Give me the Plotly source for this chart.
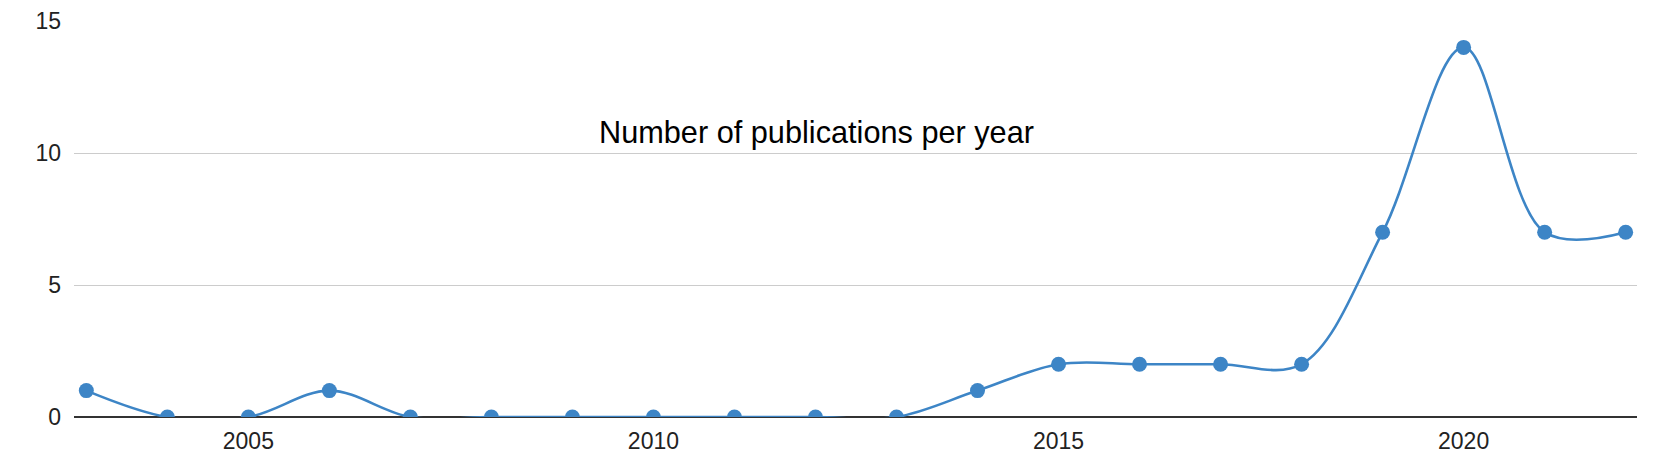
import plotly.graph_objects as go

years = list(range(2003, 2023))
publications = [1, 0, 0, 1, 0, 0, 0, 0, 0, 0, 0, 1, 2, 2, 2, 2, 7, 14, 7, 7]
x_ticks = [2005, 2010, 2015, 2020]
y_ticks = [0, 5, 10, 15]
title_text = "Number of publications per year"

# page body has an 8px margin, so the figure is offset by (8, 8)
W, H = 1645, 460
L, T = 66, 13
PLOT_W, PLOT_H = 1563, 396
R = W - L - PLOT_W
B = H - T - PLOT_H

fig = go.Figure()
fig.add_trace(go.Scatter(
    x=years, y=publications, mode="lines+markers",
    line=dict(color="#3d85c6", width=2.6, shape="spline", smoothing=1.0),
    marker=dict(color="#3d85c6", size=15),
    cliponaxis=True, showlegend=False, hoverinfo="x+y",
))

fig.add_annotation(
    text=title_text, xref="paper", yref="paper",
    x=(816 - 74) / PLOT_W, y=(417 - 132.5) / PLOT_H,
    xanchor="center", yanchor="middle", showarrow=False,
    font=dict(family="Liberation Sans, Arial, sans-serif", size=30.7, color="#000000"),
)

fig.update_layout(
    width=W, height=H,
    margin=dict(l=L, r=R, t=T, b=B, pad=0, autoexpand=False),
    paper_bgcolor="white", plot_bgcolor="white",
    font=dict(family="Liberation Sans, Arial, sans-serif", size=23, color="#222222"),
    xaxis=dict(
        range=[2002.848, 2022.14], tickvals=x_ticks, ticktext=[str(v) for v in x_ticks],
        showgrid=False, zeroline=False, showline=False, ticks="", ticklen=0,
        ticklabelstandoff=8,
        automargin=False, tickfont=dict(size=23, color="#222222"),
    ),
    yaxis=dict(
        range=[0, 15], tickvals=y_ticks, ticktext=[str(v) for v in y_ticks],
        showgrid=True, gridcolor="#cccccc", gridwidth=1,
        zeroline=True, zerolinecolor="#333333", zerolinewidth=1.5,
        showline=False, ticks="", ticklabelstandoff=12,
        automargin=False, tickfont=dict(size=23, color="#222222"),
    ),
)

fig.write_html("out.html")
